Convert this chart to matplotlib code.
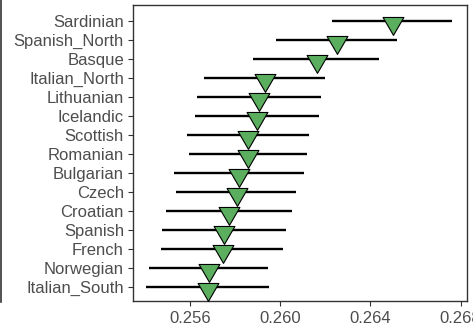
import matplotlib
matplotlib.use("Agg")
import matplotlib.pyplot as plt
from matplotlib.path import Path
from matplotlib.lines import Line2D

populations = ["Italian_South", "Norwegian", "French", "Spanish", "Croatian", "Czech",
               "Bulgarian", "Romanian", "Scottish", "Icelandic", "Lithuanian",
               "Italian_North", "Basque", "Spanish_North", "Sardinian"]
estimate = [0.25679, 0.25684, 0.25745, 0.25751, 0.25774, 0.25807,
            0.25817, 0.25855, 0.25859, 0.25897, 0.25907,
            0.25931, 0.26165, 0.26253, 0.26502]
lower = [0.25404, 0.25418, 0.25470, 0.25475, 0.25494, 0.25537,
         0.25529, 0.25597, 0.25588, 0.25624, 0.25630,
         0.25662, 0.25878, 0.25980, 0.26228]
upper = [0.25952, 0.25945, 0.26011, 0.26024, 0.26052, 0.26069,
         0.26106, 0.26118, 0.26128, 0.26172, 0.26181,
         0.26199, 0.26437, 0.26517, 0.26761]
xticks = [0.256, 0.260, 0.264, 0.268]
xtick_labels = ["0.256", "0.260", "0.264", "0.268"]

plt.rcParams['font.family'] = ['Liberation Sans', 'DejaVu Sans']

W, H = 473, 336
fig = plt.figure(figsize=(W / 100, H / 100), dpi=100)
ax = fig.add_axes([133 / W, (H - 301) / H, (467 - 133) / W, (301 - 5) / H])

ypos = list(range(len(populations)))
ax.hlines(ypos, lower, upper, color="black", linewidth=1.7, zorder=2)

tri = Path([(-0.75, 0.29), (0.75, 0.29), (0.0, -1.0), (-0.75, 0.29)],
           [Path.MOVETO, Path.LINETO, Path.LINETO, Path.CLOSEPOLY])
ax.plot(estimate, ypos, linestyle="none", marker=tri, markersize=20,
        markerfacecolor="#5BAE5E", markeredgecolor="black", markeredgewidth=0.8,
        zorder=3)

ax.set_xlim(0.25347, 0.26828)
ax.set_ylim(-0.74, 14.84)
ax.set_yticks(ypos)
ax.set_yticklabels(populations)
ax.set_xticks(xticks)
ax.set_xticklabels(xtick_labels)

for s in ax.spines.values():
    s.set_color("#333333")
    s.set_linewidth(1.0)
ax.tick_params(axis="both", length=3.5, width=0.8, color="#333333",
               labelcolor="#4D4D4D", labelsize=12, pad=3)
ax.tick_params(axis="x", pad=4)

fig.add_artist(Line2D([1 / W, 1 / W], [(H - 302) / H, 1.0], color="#333333",
                      linewidth=1.2, transform=fig.transFigure))

fig.savefig("out.png", dpi=100)
